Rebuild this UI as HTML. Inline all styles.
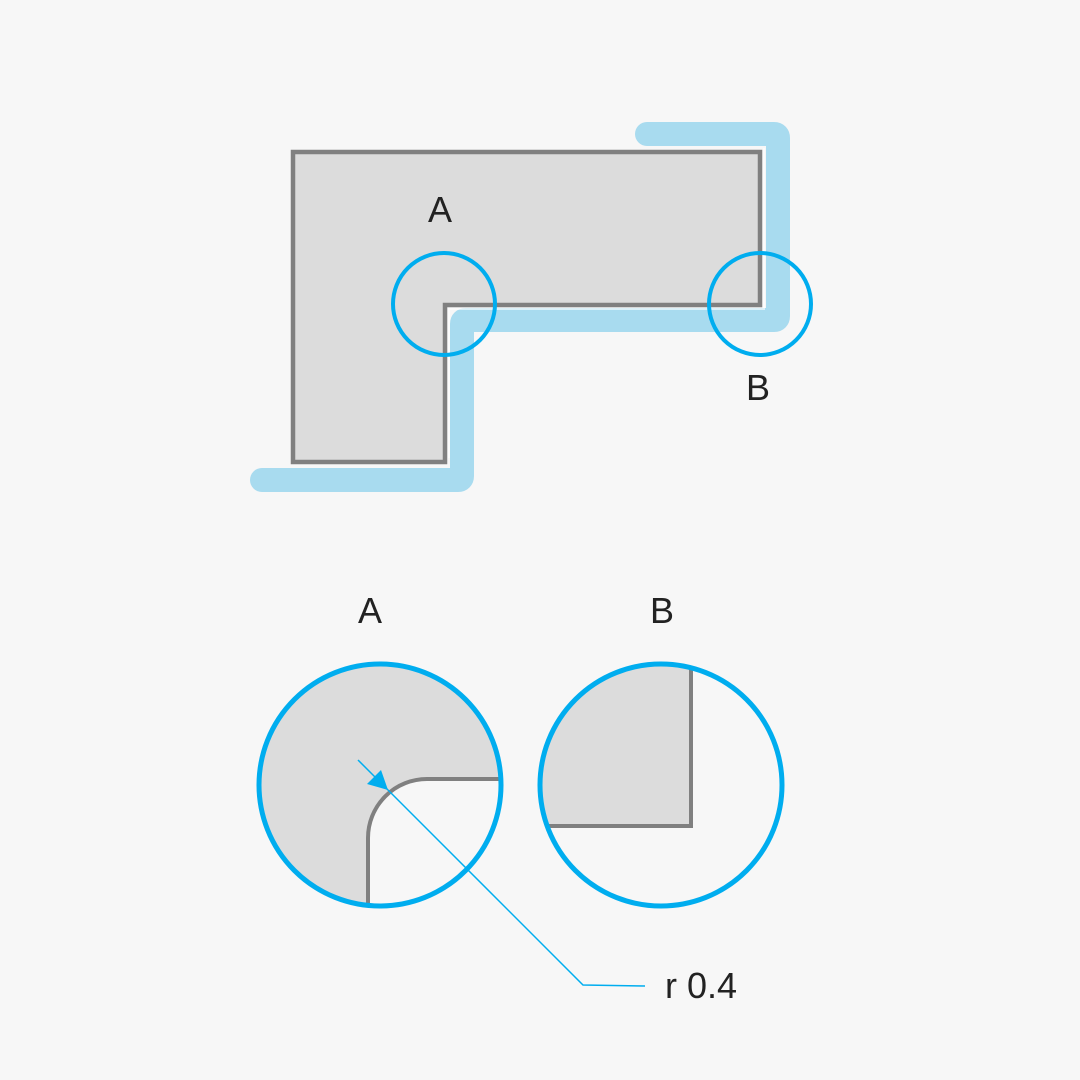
<!DOCTYPE html>
<html><head><style>html,body{margin:0;padding:0;background:#f7f7f7}svg{display:block}</style></head><body>
<svg width="1080" height="1080" viewBox="0 0 1080 1080" xmlns="http://www.w3.org/2000/svg">
<rect width="1080" height="1080" fill="#f7f7f7"/>
<polygon points="293,152 760,152 760,305 445,305 445,462 293,462" fill="#dcdcdc" stroke="#808080" stroke-width="4.5"/>
<path d="M262,480 H458 Q462,480 462,476 V324 Q462,320 466,320 H774 Q778,320 778,316 V138 Q778,134 774,134 H647" fill="none" stroke="#a8dbef" stroke-width="24" stroke-linecap="round" stroke-linejoin="round"/>
<path d="M449,458 V309 H764 V148" fill="none" stroke="#fff" stroke-width="2" opacity="0.6"/>
<circle cx="444" cy="304" r="51" fill="none" stroke="#00adef" stroke-width="4"/>
<circle cx="760" cy="304" r="51" fill="none" stroke="#00adef" stroke-width="4"/>
<g font-family="Liberation Sans, sans-serif" font-size="36" fill="#222" text-anchor="middle">
<text x="440" y="222">A</text><text x="758" y="400">B</text>
<text x="370" y="623">A</text><text x="662" y="623">B</text>
<text x="665" y="998" text-anchor="start">r 0.4</text>
</g>
<defs>
<clipPath id="ca"><circle cx="380" cy="785" r="121"/></clipPath>
<clipPath id="cb"><circle cx="661" cy="785" r="121"/></clipPath>
</defs>
<g clip-path="url(#ca)">
<path d="M200,650 H520 V779 H427 A59,59 0 0 0 368,838 V920 H200 Z" fill="#dcdcdc"/>
<path d="M520,779 H427 A59,59 0 0 0 368,838 V920" fill="none" stroke="#808080" stroke-width="4"/>
</g>
<g clip-path="url(#cb)">
<path d="M520,650 H691 V826 H520 Z" fill="#dcdcdc"/>
<path d="M691,650 V826 H520" fill="none" stroke="#808080" stroke-width="4"/>
</g>
<circle cx="380" cy="785" r="121" fill="none" stroke="#00adef" stroke-width="5"/>
<circle cx="661" cy="785" r="121" fill="none" stroke="#00adef" stroke-width="5"/>
<path d="M358,760 L583,985 L645,986" fill="none" stroke="#00adef" stroke-width="1.5"/>
<polygon points="388,790 367,784 381,770" fill="#00adef"/>
</svg>
</body></html>
